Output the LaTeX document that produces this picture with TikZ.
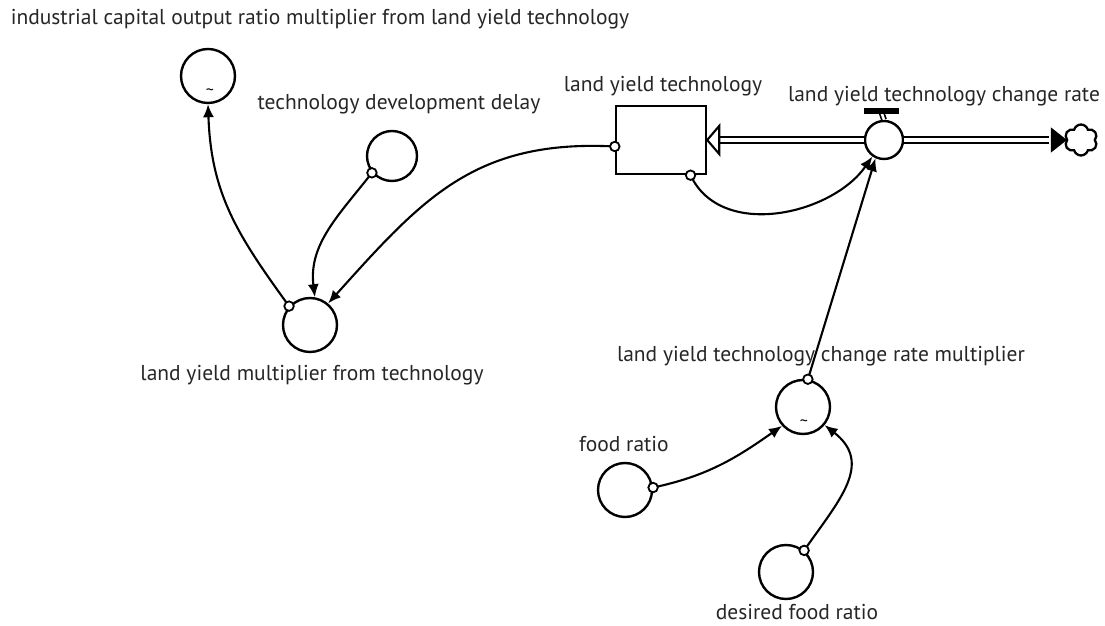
\documentclass[tikz,border=0pt]{standalone}
\usepackage{fontspec}
\setmainfont{PT Sans}
\usetikzlibrary{arrows.meta,shapes.symbols}
\begin{document}
\begin{tikzpicture}[x=1pt,y=1pt,
  aux/.style={circle,draw,line width=2.4pt,minimum size=54pt,inner sep=0pt},
  lbl/.style={font=\fontsize{21.5}{24}\selectfont,inner sep=0pt,text=black!85},
  conn/.style={line width=2.1pt,-{Latex[length=13pt,width=11pt]}},
  pipe/.style={double,line width=2.3pt,double distance=3.6pt},
  sdot/.style={circle,draw,line width=1.8pt,fill=white,minimum size=9.5pt,inner sep=0pt},
  tld/.style={font=\fontsize{16}{16}\selectfont,inner sep=0pt}]
\useasboundingbox (0,0) rectangle (1105,626);
% variables
\node[aux] (c1) at (208,550) {};
\node[aux,minimum size=50pt] (c2) at (392,470) {};
\node[aux] (c3) at (310,301) {};
\node[aux] (cm) at (803,219) {};
\node[aux] (cf) at (625,136) {};
\node[aux] (cd) at (786,54) {};
\node[tld] (t1) at (210,534) {\textasciitilde};
\node[tld] (t2) at (804,203) {\textasciitilde};
% stock, valve, cloud
\node[draw,line width=2.4pt,minimum width=90pt,minimum height=68pt,inner sep=0pt] (st) at (661,486) {};
\node[circle,draw,line width=2.4pt,minimum size=38pt,inner sep=0pt,fill=white] (vl) at (884,486) {};
\node[cloud,cloud puffs=6,draw,line width=2.3pt,minimum width=33pt,minimum height=31pt,inner sep=0pt] (cl) at (1081,486) {};
\coordinate (vb) at (881,515);
\coordinate (ab) at (718,486);
\coordinate (cb) at (1049,486);
% pipes
\draw[pipe] (vl.west) -- (ab);
\draw[pipe] (vl.east) -- (cb);
\draw[line width=2.1pt,fill=white,line join=miter] (st.east) -- ++(12,14) -- ++(0,-28) -- cycle;
\draw[line width=1.5pt,fill=black,line join=miter] (cl.west) -- ++(-14,11) -- ++(0,-22) -- cycle;
\draw[double,line width=1.7pt,double distance=2.5pt] (vb) -- (vl.north);
\fill (864,512) rectangle (899,518);
% connectors
\draw[conn] (c3.138) to[out=126,in=-88,looseness=1.05] (c1.south);
\draw[conn] (c2.220) to[out=-128,in=97] (c3.80);
\draw[conn] (st.188) to[out=177,in=48,looseness=1.1] (c3.50);
\draw[conn] (st.-50) to[out=-65,in=-125] (vl.235);
\draw[conn] (cm.80) -- (vl.245);
\draw[conn] (cf.5) to[out=12,in=215] (cm.222);
\draw[conn] (cd.50) to[out=55,in=-38,looseness=1.25] (cm.-40);
% start dots
\node[sdot] (d1) at (c3.138) {};
\node[sdot] (d2) at (c2.220) {};
\node[sdot] (d3) at (st.188) {};
\node[sdot] (d4) at (st.-50) {};
\node[sdot] (d5) at (cm.80) {};
\node[sdot] (d6) at (cf.5) {};
\node[sdot] (d7) at (cd.50) {};
% labels
\node[lbl] (l1) at (320,607) {industrial capital output ratio multiplier from land yield technology};
\node[lbl] (l2) at (399,522) {technology development delay};
\node[lbl] (l3) at (312,251) {land yield multiplier from technology};
\node[lbl] (l4) at (663,540) {land yield technology};
\node[lbl] (l5) at (944,530) {land yield technology change rate};
\node[lbl] (l6) at (821,270) {land yield technology change rate multiplier};
\node[lbl] (l7) at (624,182) {food ratio};
\node[lbl] (l8) at (797,14) {desired food ratio};
\end{tikzpicture}
\end{document}
